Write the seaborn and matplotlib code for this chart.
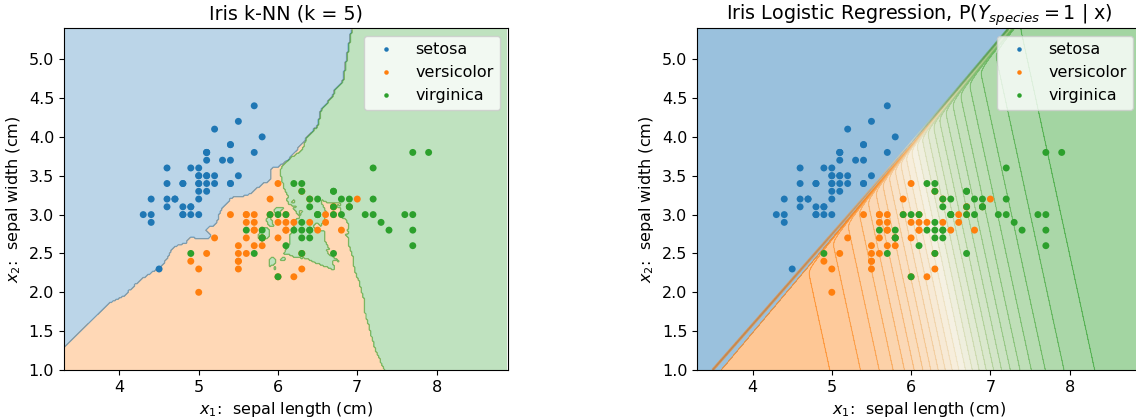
import numpy as np
import pandas as pd
import matplotlib
matplotlib.use("Agg")
import matplotlib.pyplot as plt
import seaborn as sns
from matplotlib.colors import LinearSegmentedColormap
from matplotlib.collections import LineCollection

# Iris sepal measurements, as plotted
species_names = ["setosa", "versicolor", "virginica"]

setosa_length = [5.1, 4.9, 4.7, 4.6, 5.0, 5.4, 4.6, 5.0, 4.4, 4.9, 5.4, 4.8, 4.8, 4.3, 5.8,
                 5.7, 5.4, 5.1, 5.7, 5.1, 5.4, 5.1, 4.6, 5.1, 4.8, 5.0, 5.0, 5.2, 5.2, 4.7,
                 4.8, 5.4, 5.2, 5.5, 4.9, 5.0, 5.5, 4.9, 4.4, 5.1, 5.0, 4.5, 4.4, 5.0, 5.1,
                 4.8, 5.1, 4.6, 5.3, 5.0]
setosa_width = [3.5, 3.0, 3.2, 3.1, 3.6, 3.9, 3.4, 3.4, 2.9, 3.1, 3.7, 3.4, 3.0, 3.0, 4.0,
                4.4, 3.9, 3.5, 3.8, 3.8, 3.4, 3.7, 3.6, 3.3, 3.4, 3.0, 3.4, 3.5, 3.4, 3.2,
                3.1, 3.4, 4.1, 4.2, 3.1, 3.2, 3.5, 3.6, 3.0, 3.4, 3.5, 2.3, 3.2, 3.5, 3.8,
                3.0, 3.8, 3.2, 3.7, 3.3]
versicolor_length = [7.0, 6.4, 6.9, 5.5, 6.5, 5.7, 6.3, 4.9, 6.6, 5.2, 5.0, 5.9, 6.0, 6.1, 5.6,
                     6.7, 5.6, 5.8, 6.2, 5.6, 5.9, 6.1, 6.3, 6.1, 6.4, 6.6, 6.8, 6.7, 6.0, 5.7,
                     5.5, 5.5, 5.8, 6.0, 5.4, 6.0, 6.7, 6.3, 5.6, 5.5, 5.5, 6.1, 5.8, 5.0, 5.6,
                     5.7, 5.7, 6.2, 5.1, 5.7]
versicolor_width = [3.2, 3.2, 3.1, 2.3, 2.8, 2.8, 3.3, 2.4, 2.9, 2.7, 2.0, 3.0, 2.2, 2.9, 2.9,
                    3.1, 3.0, 2.7, 2.2, 2.5, 3.2, 2.8, 2.5, 2.8, 2.9, 3.0, 2.8, 3.0, 2.9, 2.6,
                    2.4, 2.4, 2.7, 2.7, 3.0, 3.4, 3.1, 2.3, 3.0, 2.5, 2.6, 3.0, 2.6, 2.3, 2.7,
                    3.0, 2.9, 2.9, 2.5, 2.8]
virginica_length = [6.3, 5.8, 7.1, 6.3, 6.5, 7.6, 4.9, 7.3, 6.7, 7.2, 6.5, 6.4, 6.8, 5.7, 5.8,
                    6.4, 6.5, 7.7, 7.7, 6.0, 6.9, 5.6, 7.7, 6.3, 6.7, 7.2, 6.2, 6.1, 6.4, 7.2,
                    7.4, 7.9, 6.4, 6.3, 6.1, 7.7, 6.3, 6.4, 6.0, 6.9, 6.7, 6.9, 5.8, 6.8, 6.7,
                    6.7, 6.3, 6.5, 6.2, 5.9]
virginica_width = [3.3, 2.7, 3.0, 2.9, 3.0, 3.0, 2.5, 2.9, 2.5, 3.6, 3.2, 2.7, 3.0, 2.5, 2.8,
                   3.2, 3.0, 3.8, 2.6, 2.2, 3.2, 2.8, 2.8, 2.7, 3.3, 3.2, 2.8, 3.0, 2.8, 3.0,
                   2.8, 3.8, 2.8, 2.8, 2.6, 3.0, 3.4, 3.1, 3.0, 3.1, 3.1, 3.1, 2.7, 3.2, 3.3,
                   3.0, 2.5, 3.0, 3.4, 3.0]

palette = {"setosa": "tab:blue", "versicolor": "tab:orange", "virginica": "tab:green"}

df = pd.DataFrame({
    "sepal_length": setosa_length + versicolor_length + virginica_length,
    "sepal_width": setosa_width + versicolor_width + virginica_width,
    "species": ["setosa"] * 50 + ["versicolor"] * 50 + ["virginica"] * 50,
})
X = df[["sepal_length", "sepal_width"]].to_numpy()
y = df["species"].map({s: i for i, s in enumerate(species_names)}).to_numpy()

x_min, x_max = X[:, 0].min() - 1, X[:, 0].max() + 1
y_min, y_max = X[:, 1].min() - 1, X[:, 1].max() + 1


def knn_predict(grid, k=5):
    out = np.empty(len(grid), dtype=int)
    for start in range(0, len(grid), 5000):
        g = grid[start:start + 5000]
        d = (g[:, None, 0] - X[None, :, 0]) ** 2 + (g[:, None, 1] - X[None, :, 1]) ** 2
        idx = np.argsort(d, axis=1, kind="stable")[:, :k]
        votes = np.stack([(y[idx] == c).sum(1) for c in range(3)], axis=1)
        out[start:start + 5000] = votes.argmax(1)
    return out


def softmax(s):
    s = s - s.max(1, keepdims=True)
    e = np.exp(s)
    return e / e.sum(1, keepdims=True)


def fit_logreg(C=1e5, iters=100):
    # multinomial logistic regression, Newton steps
    Xb = np.column_stack([X, np.ones(len(X))])
    K, d = 3, Xb.shape[1]
    Y = np.eye(K)[y]
    pen = np.array([1.0, 1.0, 0.0]) / C
    W = np.zeros((K, d))

    def loss(W):
        s = Xb @ W.T
        s = s - s.max(1, keepdims=True)
        lp = s - np.log(np.exp(s).sum(1, keepdims=True))
        return -(Y * lp).sum() + 0.5 * (pen * W ** 2).sum()

    for _ in range(iters):
        P = softmax(Xb @ W.T)
        G = (P - Y).T @ Xb + pen * W
        H = np.zeros((K * d, K * d))
        for a in range(K):
            for b in range(K):
                w = P[:, a] * ((a == b) - P[:, b])
                H[a * d:(a + 1) * d, b * d:(b + 1) * d] = Xb.T @ (Xb * w[:, None])
        H += np.diag(np.tile(pen, K))
        step = np.linalg.lstsq(H, G.ravel(), rcond=1e-12)[0].reshape(K, d)
        t, f0 = 1.0, loss(W)
        while loss(W - t * step) > f0 and t > 1e-10:
            t /= 2
        W = W - t * step
    return W


plt.rcParams["font.size"] = 11.5
fig = plt.figure(figsize=(11.36, 4.18), dpi=100)
ax1 = fig.add_axes([0.0563, 0.1148, 0.3908, 0.818])
ax2 = fig.add_axes([0.6136, 0.1148, 0.3908, 0.818])

# ---- left: k-NN decision regions
h = 0.02
xx, yy = np.meshgrid(np.arange(x_min, x_max, h), np.arange(y_min, y_max, h))
Z = knn_predict(np.c_[xx.ravel(), yy.ravel()]).reshape(xx.shape)
ax1.contourf(xx, yy, Z, levels=[-0.5, 0.5, 1.5, 2.5],
             colors=["tab:blue", "tab:orange", "tab:green"], alpha=0.3)
ax1.contour(xx, yy, Z, levels=[0.5, 1.5], colors=["tab:blue", "tab:green"],
            linewidths=1, alpha=0.45)

# ---- right: logistic regression, expected label P1 + 2*P2
W = fit_logreg()
h2 = 0.01
gx, gy = np.meshgrid(np.arange(x_min, x_max, h2), np.arange(y_min, y_max, h2))
G = np.c_[gx.ravel(), gy.ravel(), np.ones(gx.size)]
P = softmax(G @ W.T).reshape(gx.shape + (3,))
E = P[..., 1] + 2 * P[..., 2]

cmap = LinearSegmentedColormap.from_list("og", ["tab:orange", "#ece2c2", "tab:green"])
levels = np.linspace(1, 2, 26)
ax2.contourf(gx, gy, E, levels=[E.min() - 1, 1], colors=["tab:blue"], alpha=0.45)
ax2.contourf(gx, gy, E, levels=levels, cmap=cmap, alpha=0.45)
ax2.contour(gx, gy, E, levels=levels, cmap=cmap, linewidths=0.8, alpha=0.5)

# edge of the setosa region, coloured by the neighbouring class mix
cs = ax2.contour(gx, gy, P[..., 0], levels=[0.5], colors="tab:blue",
                 linewidths=0.8, alpha=0.6)
for seg in cs.allsegs[0]:
    if len(seg) < 2:
        continue
    mid = 0.5 * (seg[:-1] + seg[1:])
    pm = softmax(np.c_[mid, np.ones(len(mid))] @ W.T)
    r = pm[:, 2] / (pm[:, 1] + pm[:, 2])
    lc = LineCollection(np.stack([seg[:-1], seg[1:]], axis=1), colors=cmap(r),
                        linewidths=2, alpha=0.75)
    ax2.add_collection(lc)

for ax, title in [(ax1, "Iris k-NN (k = 5)"),
                  (ax2, r"Iris Logistic Regression, P($Y_{species}=1$ | x)")]:
    sns.scatterplot(data=df, x="sepal_length", y="sepal_width", hue="species",
                    palette=palette, s=25, linewidth=0, ax=ax, zorder=3)
    ax.set_xlim(x_min, x_max)
    ax.set_ylim(y_min, y_max)
    ax.set_xlabel(r"$x_1$:  sepal length (cm)")
    ax.set_ylabel(r"$x_2$:  sepal width (cm)")
    ax.set_title(title, fontsize=13.8)
    sns.move_legend(ax, "upper right", title=None, fontsize=11.5, frameon=True,
                    markerscale=0.65)

fig.savefig("out.png", dpi=100)
